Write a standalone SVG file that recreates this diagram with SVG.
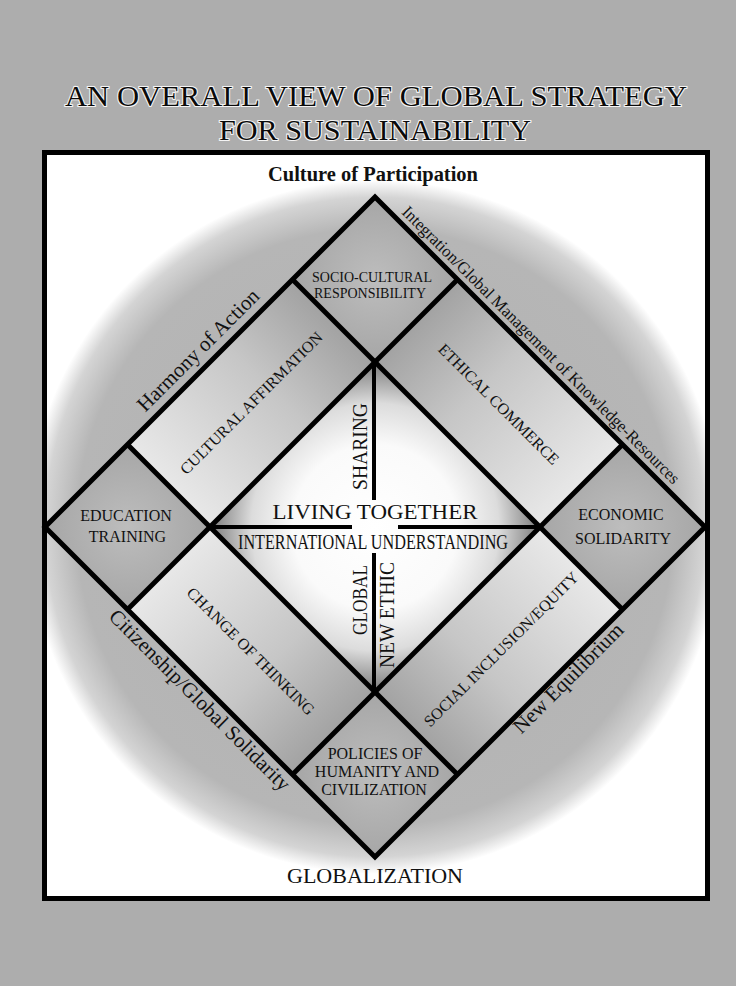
<svg xmlns="http://www.w3.org/2000/svg" width="736" height="986" viewBox="0 0 736 986">
<defs>
<style>
.t{font-family:"Liberation Serif","Times New Roman",serif;fill:#111}
.title{font-size:30px;fill:#0a0a0a;stroke:#f4f4f4;stroke-width:2.2;paint-order:stroke}
.ln{stroke:#000;stroke-width:5;fill:none;stroke-linejoin:miter;stroke-linecap:butt}
.cr{stroke:#000;stroke-width:4;fill:none}
.cap{font-size:16px}
.band{font-size:16px}
.edge{font-size:21px}
.in{font-size:21px}
</style>
<clipPath id="boxclip"><rect x="47" y="155" width="658" height="741"/></clipPath>
<radialGradient id="ring" cx="375" cy="527" r="347" gradientUnits="userSpaceOnUse">
<stop offset="0" stop-color="#b0b0b0"/>
<stop offset="0.86" stop-color="#b6b6b6"/>
<stop offset="0.95" stop-color="#d4d4d4"/>
<stop offset="1" stop-color="#ffffff"/>
</radialGradient>
<radialGradient id="core" cx="375" cy="527" r="165" gradientUnits="userSpaceOnUse">
<stop offset="0" stop-color="#ffffff"/>
<stop offset="0.5" stop-color="#fafafa"/>
<stop offset="0.75" stop-color="#dcdcdc"/>
<stop offset="1" stop-color="#7a7a7a"/>
</radialGradient>
<radialGradient id="corner" cx="0.5" cy="0.5" r="0.5">
<stop offset="0" stop-color="#bdbdbd"/>
<stop offset="1" stop-color="#a6a6a6"/>
</radialGradient>
<linearGradient id="bUL" x1="168.75" y1="485.75" x2="333.75" y2="320.75" gradientUnits="userSpaceOnUse">
<stop offset="0" stop-color="#e8e8e8"/><stop offset="0.6" stop-color="#c6c6c6"/><stop offset="1" stop-color="#a2a2a2"/>
</linearGradient>
<linearGradient id="bUR" x1="581.25" y1="485.75" x2="416.25" y2="320.75" gradientUnits="userSpaceOnUse">
<stop offset="0" stop-color="#e8e8e8"/><stop offset="0.6" stop-color="#c6c6c6"/><stop offset="1" stop-color="#a2a2a2"/>
</linearGradient>
<linearGradient id="bLL" x1="168.75" y1="568.25" x2="333.75" y2="733.25" gradientUnits="userSpaceOnUse">
<stop offset="0" stop-color="#e8e8e8"/><stop offset="0.6" stop-color="#c6c6c6"/><stop offset="1" stop-color="#a2a2a2"/>
</linearGradient>
<linearGradient id="bLR" x1="581.25" y1="568.25" x2="416.25" y2="733.25" gradientUnits="userSpaceOnUse">
<stop offset="0" stop-color="#e8e8e8"/><stop offset="0.6" stop-color="#c6c6c6"/><stop offset="1" stop-color="#a2a2a2"/>
</linearGradient>
</defs>

<rect width="736" height="986" fill="#adadad"/>

<g id="title">
<text class="t title" x="376" y="106" text-anchor="middle" textLength="622" lengthAdjust="spacingAndGlyphs">AN OVERALL VIEW OF GLOBAL STRATEGY</text>
<text class="t title" x="375" y="140" text-anchor="middle" textLength="312" lengthAdjust="spacingAndGlyphs">FOR SUSTAINABILITY</text>
</g>

<g id="frame">
<rect x="44.5" y="152.5" width="663" height="746" fill="#fff" stroke="#000" stroke-width="5"/>
<circle cx="375" cy="527" r="347" fill="url(#ring)" clip-path="url(#boxclip)"/>
</g>

<g id="regions">
<polygon points="375,362 540,527 375,692 210,527" fill="url(#core)"/>
<polygon points="127.5,444.5 292.5,279.5 375,362 210,527" fill="url(#bUL)"/>
<polygon points="457.5,279.5 622.5,444.5 540,527 375,362" fill="url(#bUR)"/>
<polygon points="127.5,609.5 210,527 375,692 292.5,774.5" fill="url(#bLL)"/>
<polygon points="540,527 622.5,609.5 457.5,774.5 375,692" fill="url(#bLR)"/>
<polygon points="375,197 457.5,279.5 375,362 292.5,279.5" fill="url(#corner)"/>
<polygon points="45,527 127.5,444.5 210,527 127.5,609.5" fill="url(#corner)"/>
<polygon points="705,527 622.5,444.5 540,527 622.5,609.5" fill="url(#corner)"/>
<polygon points="375,857 292.5,774.5 375,692 457.5,774.5" fill="url(#corner)"/>
</g>

<g id="connectors">
<polygon class="ln" points="375,197 705,527 375,857 45,527"/>
<line class="ln" x1="127.5" y1="609.5" x2="457.5" y2="279.5"/>
<line class="ln" x1="292.5" y1="774.5" x2="622.5" y2="444.5"/>
<line class="ln" x1="127.5" y1="444.5" x2="457.5" y2="774.5"/>
<line class="ln" x1="292.5" y1="279.5" x2="622.5" y2="609.5"/>
<line class="cr" x1="210" y1="527" x2="352" y2="527"/>
<line class="cr" x1="398" y1="527" x2="540" y2="527"/>
<line class="cr" x1="374" y1="362" x2="374" y2="500"/>
<line class="cr" x1="374" y1="553" x2="374" y2="692"/>
</g>

<g id="culture-of-participation">
<text class="t" x="373" y="181" text-anchor="middle" font-size="20" font-weight="bold" textLength="210" lengthAdjust="spacingAndGlyphs">Culture of Participation</text>
</g>
<g id="globalization">
<text class="t" x="375" y="883" text-anchor="middle" font-size="22">GLOBALIZATION</text>
</g>

<g id="harmony-of-action">
<text class="t edge" transform="translate(203,355) rotate(-45)" text-anchor="middle" font-size="22">Harmony of Action</text>
</g>
<g id="integration">
<text class="t" transform="translate(537,349) rotate(45)" text-anchor="middle" font-size="17" textLength="385" lengthAdjust="spacingAndGlyphs">Integration/Global Management of Knowledge-Resources</text>
</g>
<g id="citizenship">
<text class="t edge" transform="translate(195,705) rotate(45)" text-anchor="middle">Citizenship/Global Solidarity</text>
</g>
<g id="new-equilibrium">
<text class="t edge" transform="translate(573,683) rotate(-45)" text-anchor="middle">New Equilibrium</text>
</g>

<g id="socio-cultural">
<text class="t" x="372" y="282" text-anchor="middle" font-size="14" textLength="120" lengthAdjust="spacingAndGlyphs">SOCIO-CULTURAL</text>
<text class="t" x="370" y="298" text-anchor="middle" font-size="14" textLength="112" lengthAdjust="spacingAndGlyphs">RESPONSIBILITY</text>
</g>
<g id="education-training">
<text class="t cap" x="126" y="521" text-anchor="middle">EDUCATION</text>
<text class="t cap" x="127.5" y="542" text-anchor="middle">TRAINING</text>
</g>
<g id="economic-solidarity">
<text class="t cap" x="621" y="520" text-anchor="middle">ECONOMIC</text>
<text class="t cap" x="623" y="544" text-anchor="middle" font-size="15.5">SOLIDARITY</text>
</g>
<g id="policies">
<text class="t cap" x="375" y="759" text-anchor="middle">POLICIES OF</text>
<text class="t cap" x="377" y="777" text-anchor="middle">HUMANITY AND</text>
<text class="t cap" x="374" y="795" text-anchor="middle">CIVILIZATION</text>
</g>

<g id="cultural-affirmation">
<text class="t band" transform="translate(255,407) rotate(-45)" text-anchor="middle">CULTURAL AFFIRMATION</text>
</g>
<g id="ethical-commerce">
<text class="t band" transform="translate(495,408) rotate(45)" text-anchor="middle">ETHICAL COMMERCE</text>
</g>
<g id="change-of-thinking">
<text class="t band" transform="translate(247,655) rotate(45)" text-anchor="middle">CHANGE OF THINKING</text>
</g>
<g id="social-inclusion">
<text class="t band" transform="translate(505,653) rotate(-45)" text-anchor="middle">SOCIAL INCLUSION/EQUITY</text>
</g>

<g id="living-together">
<text class="t in" x="375" y="519" text-anchor="middle" textLength="205" lengthAdjust="spacingAndGlyphs">LIVING TOGETHER</text>
</g>
<g id="international-understanding">
<text class="t in" x="373" y="549" text-anchor="middle" textLength="270" lengthAdjust="spacingAndGlyphs">INTERNATIONAL UNDERSTANDING</text>
</g>
<g id="sharing">
<text class="t" transform="translate(367,446.5) rotate(-90)" text-anchor="middle" font-size="20" textLength="87" lengthAdjust="spacingAndGlyphs">SHARING</text>
</g>
<g id="global">
<text class="t" transform="translate(367,600) rotate(-90)" text-anchor="middle" font-size="20" textLength="70" lengthAdjust="spacingAndGlyphs">GLOBAL</text>
</g>
<g id="new-ethic">
<text class="t" transform="translate(394,615) rotate(-90)" text-anchor="middle" font-size="20" textLength="106" lengthAdjust="spacingAndGlyphs">NEW ETHIC</text>
</g>
</svg>
